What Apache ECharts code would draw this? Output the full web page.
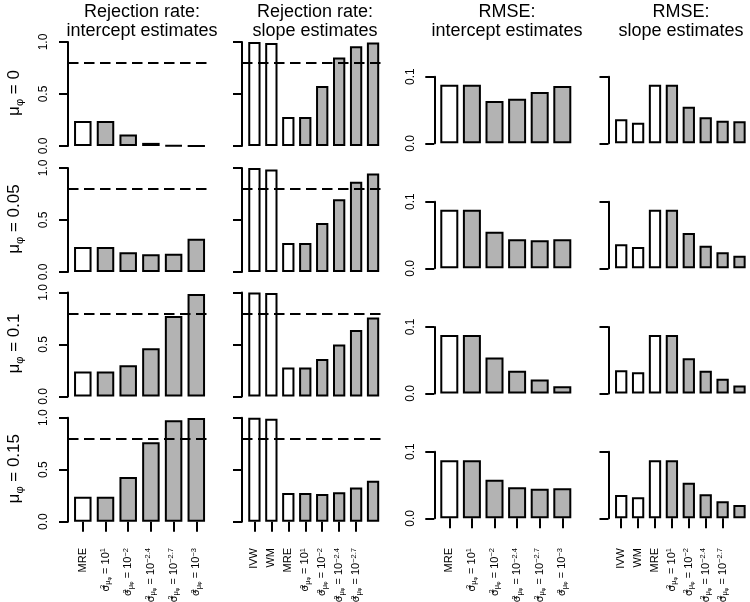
<!DOCTYPE html>
<html><head><meta charset="utf-8">
<script src="https://cdn.jsdelivr.net/npm/echarts@6/dist/echarts.min.js"></script>
<style>html,body{margin:0;padding:0;background:#fff}#c{width:750px;height:602px}</style>
</head><body><div id="c"></div>
<script>
// ---------------- data ----------------
const muValues = ['0', '0.05', '0.1', '0.15'];
const panelTitles = ['Rejection rate:\nintercept estimates', 'Rejection rate:\nslope estimates', 'RMSE:\nintercept estimates', 'RMSE:\nslope estimates'];
const interceptCategories = ['MRE', 'sigma:1', 'sigma:−2', 'sigma:−2.4', 'sigma:−2.7', 'sigma:−3'];
const slopeCategories = ['IVW', 'WM', 'MRE', 'sigma:1', 'sigma:−2', 'sigma:−2.4', 'sigma:−2.7', 'sigma:−3'];
const rejectionTicks = [0, 0.5, 1.0];
const rmseTicks = [0, 0.1];
const powerTarget = 0.8;

const rejIntMu0   = [0.24, 0.24, 0.11, 0.03, 0.007, 0.002];
const rejIntMu005 = [0.24, 0.24, 0.19, 0.17, 0.175, 0.32];
const rejIntMu01  = [0.24, 0.24, 0.30, 0.465, 0.775, 0.985];
const rejIntMu015 = [0.24, 0.24, 0.43, 0.763, 0.975, 0.998];

const rejSlopeMu0   = [1.0, 0.99, 0.28, 0.28, 0.577, 0.85, 0.96, 0.995];
const rejSlopeMu005 = [1.0, 0.985, 0.28, 0.28, 0.47, 0.70, 0.867, 0.946];
const rejSlopeMu01  = [1.0, 0.995, 0.28, 0.28, 0.36, 0.50, 0.64, 0.76];
const rejSlopeMu015 = [1.0, 0.99, 0.276, 0.276, 0.266, 0.282, 0.33, 0.394];

const rmseIntMu0   = [0.088, 0.088, 0.0636, 0.067, 0.077, 0.086];
const rmseIntMu005 = [0.088, 0.088, 0.055, 0.0435, 0.042, 0.0435];
const rmseIntMu01  = [0.088, 0.088, 0.054, 0.034, 0.021, 0.011];
const rmseIntMu015 = [0.087, 0.087, 0.058, 0.0465, 0.0445, 0.045];

const rmseSlopeMu0   = [0.036, 0.031, 0.088, 0.088, 0.055, 0.039, 0.034, 0.033];
const rmseSlopeMu005 = [0.036, 0.032, 0.088, 0.088, 0.053, 0.034, 0.024, 0.019];
const rmseSlopeMu01  = [0.035, 0.032, 0.088, 0.088, 0.053, 0.034, 0.022, 0.012];
const rmseSlopeMu015 = [0.035, 0.0315, 0.087, 0.087, 0.0535, 0.036, 0.0255, 0.020];

const panelData = [
  [rejIntMu0, rejSlopeMu0, rmseIntMu0, rmseSlopeMu0],
  [rejIntMu005, rejSlopeMu005, rmseIntMu005, rmseSlopeMu005],
  [rejIntMu01, rejSlopeMu01, rmseIntMu01, rmseSlopeMu01],
  [rejIntMu015, rejSlopeMu015, rmseIntMu015, rmseSlopeMu015]
];

// ---------------- layout / style ----------------
const FONT = '"Liberation Sans", Arial, Helvetica, sans-serif';
const GRAY = '#b3b3b3';
const colKinds = ['rej', 'rej', 'rmse', 'rmse'];
const colCats = [interceptCategories, slopeCategories, interceptCategories, slopeCategories];
const colShowYLabels = [true, false, true, false];
const colLabelsShown = [6, 7, 6, 7];
const colAxisX = [68, 242, 434.3, 608.5];
const colFirstCenter = [82.8, 254.4, 449.3, 621.2];
const colPitch = [22.7, 16.95, 22.6, 16.9];
const colBarW = [17.5, 12.3, 18, 12.3];
const titleCenters = [142, 315, 507, 681];
const rejBottoms = [146, 272, 396.5, 521.7];
const rejH = 104;
const rmseBottoms = [143.3, 268.3, 393.5, 518.3];
const rmseH = 66.6;
const xTickY = 531.7;

const richX = {
  n: { fontSize: 11, fontFamily: FONT, color: '#000', lineHeight: 13 },
  p: { fontSize: 7.5, fontFamily: FONT, color: '#000', verticalAlign: 'top', lineHeight: 7 },
  p0: { fontSize: 7.5, fontFamily: FONT, color: '#000', verticalAlign: 'top', lineHeight: 7, width: 0 },
  b: { fontSize: 7.5, fontFamily: FONT, color: '#000', verticalAlign: 'bottom', lineHeight: 7 },
  bb: { fontSize: 5.5, fontFamily: FONT, color: '#000', verticalAlign: 'bottom', lineHeight: 5 }
};
function catLabel(cat) {
  if (cat.indexOf('sigma:') !== 0) return '{n|' + cat + '}';
  const e = cat.slice(6);
  return '{n|σ}{p0|2}{b|μ}{bb|φ}{n| = 10}{p|' + e + '}';
}

const grids = [], xAxes = [], yAxes = [], series = [], graphics = [];
for (let r = 0; r < 4; r++) {
  for (let c = 0; c < 4; c++) {
    const idx = r * 4 + c;
    const cats = colCats[c];
    const n = cats.length;
    const isRej = colKinds[c] === 'rej';
    const ticks = isRej ? rejectionTicks : rmseTicks;
    const bottom = isRej ? rejBottoms[r] : rmseBottoms[r];
    const h = isRej ? rejH : rmseH;
    const left = colFirstCenter[c] - colPitch[c] / 2;
    const width = n * colPitch[c];
    const shown = colLabelsShown[c];
    grids.push({ left: left, top: bottom - h, width: width, height: h, containLabel: false, outerBoundsMode: 'none' });
    xAxes.push({
      gridIndex: idx, type: 'category', data: cats, boundaryGap: true, show: r === 3,
      offset: xTickY - bottom,
      axisLine: { show: false },
      axisTick: { show: true, alignWithLabel: true, length: 10, interval: (i) => i < shown, lineStyle: { color: '#000', width: 2 } },
      axisLabel: { show: true, rotate: 90, margin: 16.3, hideOverlap: false, interval: (i) => i < shown, formatter: catLabel, rich: richX, color: '#000', fontFamily: FONT, fontSize: 11 },
      splitLine: { show: false }
    });
    yAxes.push({
      gridIndex: idx, type: 'value', min: ticks[0], max: ticks[ticks.length - 1], interval: ticks[1] - ticks[0],
      offset: left - colAxisX[c],
      axisLine: { show: true, lineStyle: { color: '#000', width: 2 } },
      axisTick: { show: true, length: 9, lineStyle: { color: '#000', width: 2 } },
      axisLabel: { show: colShowYLabels[c], rotate: 90, margin: 18, hideOverlap: false, formatter: (v) => v.toFixed(1), color: '#000', fontSize: 12, fontFamily: FONT },
      splitLine: { show: false }
    });
    const s = {
      type: 'bar', xAxisIndex: idx, yAxisIndex: idx, barWidth: colBarW[c], silent: true, animation: false,
      itemStyle: { borderColor: '#000', borderWidth: 2 },
      data: panelData[r][c].map((v, i) => ({ value: v, itemStyle: { color: cats[i].indexOf('sigma') === 0 ? GRAY : '#ffffff' } }))
    };
    if (isRej) {
      s.markLine = {
        silent: true, symbol: ['none', 'none'], label: { show: false }, animation: false,
        lineStyle: { color: '#000', width: 2, type: [10.5, 5.5] },
        emphasis: { disabled: true },
        data: [[{ yAxis: powerTarget, x: colAxisX[c] }, { yAxis: powerTarget, x: left + width }]]
      };
    }
    series.push(s);
  }
}

for (let c = 0; c < 4; c++) {
  graphics.push({
    type: 'text', x: titleCenters[c], y: 3,
    style: { text: panelTitles[c], fill: '#000', fontSize: 18, fontFamily: FONT, lineHeight: 18.5,
      textAlign: 'center', align: 'center', textVerticalAlign: 'top', verticalAlign: 'top' }
  });
}
for (let r = 0; r < 4; r++) {
  const cy = rejBottoms[r] - rejH / 2 - 1;
  graphics.push({
    type: 'text', x: 14, y: cy, rotation: Math.PI / 2,
    style: {
      text: '{m|μ}{s|φ}{m| = ' + muValues[r] + '}',
      rich: {
        m: { fontSize: 17, fontFamily: FONT, fill: '#000', lineHeight: 22 },
        s: { fontSize: 11, fontFamily: FONT, fill: '#000', verticalAlign: 'bottom', lineHeight: 10 }
      },
      textAlign: 'center', align: 'center', textVerticalAlign: 'middle', verticalAlign: 'middle'
    }
  });
}

const chart = echarts.init(document.getElementById('c'), null, { renderer: 'canvas', width: 750, height: 602 });
chart.setOption({
  backgroundColor: '#ffffff',
  animation: false,
  grid: grids, xAxis: xAxes, yAxis: yAxes, series: series, graphic: graphics
});
</script></body></html>
